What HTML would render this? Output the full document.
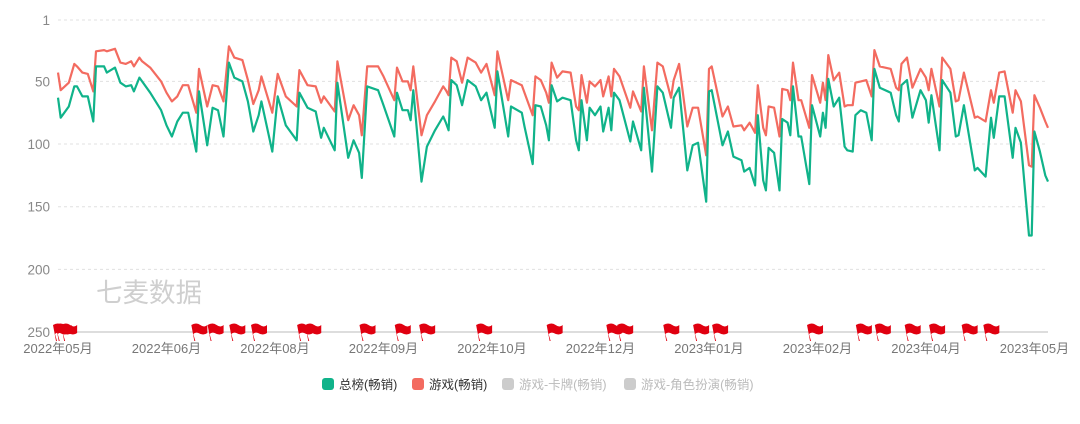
<!DOCTYPE html>
<html><head><meta charset="utf-8">
<style>
html,body{margin:0;padding:0;background:#fff;}
body{width:1080px;height:419px;overflow:hidden;font-family:"Liberation Sans","Noto Sans CJK SC",sans-serif;}
</style></head>
<body>
<svg id="chart" width="1080" height="419" xmlns="http://www.w3.org/2000/svg" font-family="Liberation Sans, Noto Sans CJK SC, sans-serif"></svg>
<script>
const days=[0,1,4,6,7,9,11,13,14,17,18,21,23,25,27,28,30,31,34,38,40,42,44,46,48,51,52,55,57,59,61,63,65,68,70,72,74,75,79,81,84,88,89,92,95,97,98,102,103,107,109,111,112,114,118,120,124,125,127,129,130,131,134,136,139,142,143,144,145,147,149,151,154,156,158,161,162,166,167,171,172,175,176,178,180,181,182,184,186,189,191,192,193,195,196,198,200,201,203,204,205,207,211,212,215,216,219,221,223,226,227,229,232,234,236,239,240,241,245,247,249,252,253,255,257,258,260,261,262,264,266,267,269,270,271,273,274,277,278,281,282,283,284,286,288,290,291,293,294,296,298,300,301,303,307,309,310,311,313,315,318,320,321,322,325,326,329,331,332,334,338,339,342,344,345,347,349,352,353,355,358,359,360,362,364,365];
const totalRank=[63,79,70,54,54,62,62,82,38,38,43,39,51,54,53,58,47,50,59,73,85,94,82,75,75,106,58,101,71,73,94,35,47,50,66,90,77,66,106,62,85,97,59,71,74,95,87,105,51,111,97,107,127,54,57,69,94,59,73,73,81,57,130,102,89,78,83,89,49,53,69,49,54,65,59,87,42,94,70,75,86,116,69,70,85,97,53,66,63,65,97,105,65,97,71,77,70,90,71,89,59,65,98,82,105,55,122,54,59,87,63,55,121,101,99,146,58,57,101,90,110,113,122,119,133,77,129,137,103,107,137,80,83,93,54,94,94,132,69,94,75,87,48,70,63,102,105,106,77,73,75,97,40,55,59,77,82,53,49,79,57,65,83,61,105,49,59,94,93,69,121,119,126,79,95,62,62,111,87,99,173,173,90,106,125,130];
const gameRank=[43,57,51,36,38,43,44,58,26,25,26,24,35,36,34,38,31,34,39,50,59,66,62,53,53,75,40,70,53,54,66,22,31,33,49,68,57,46,75,44,62,70,41,53,54,67,62,74,34,81,69,77,93,38,38,46,65,39,50,50,57,38,93,77,66,54,57,61,31,34,51,31,35,43,36,61,26,65,49,53,59,77,46,49,59,67,35,47,42,43,70,73,45,67,50,54,49,62,46,62,40,46,71,58,74,38,89,35,38,63,49,36,86,71,71,109,40,38,78,70,86,85,89,83,91,53,87,93,70,71,94,56,57,65,35,65,65,87,45,67,51,65,29,49,43,70,69,69,51,50,49,62,25,38,40,55,57,36,31,55,40,47,57,40,70,31,40,66,65,43,79,78,82,57,67,43,42,75,57,66,117,118,61,71,82,87];
const yTicks=[1,50,100,150,200,250];
const xLabelDays=[0,40,80,120,160,200,240,280,320,360];
const xLabels=["2022年05月","2022年06月","2022年08月","2022年09月","2022年10月","2022年12月","2023年01月","2023年02月","2023年04月","2023年05月"];
const flagDays=[0,1,3,51,57,65,73,90,93,113,126,135,156,182,204,208,225,236,243,278,296,303,314,323,335,343];

const svg=document.getElementById('chart');
const NS='http://www.w3.org/2000/svg';
const X0=58,X1=1048,Y0=20,Y1=332;
function xs(d){return X0+(d-0)/(365-0)*(X1-X0);}
function ys(v){return Y0+(v-1)/(250-1)*(Y1-Y0);}
function mk(tag,attrs){const e=document.createElementNS(NS,tag);for(const k in attrs)e.setAttribute(k,attrs[k]);svg.appendChild(e);return e;}

yTicks.forEach(t=>{
  if(t!==250){
    const g=mk('line',{x1:X0,x2:X1,y1:ys(t),y2:ys(t),stroke:'#e0e0e0','stroke-dasharray':'3,3'});
    
    
  }
  const l=mk('text',{x:50,y:ys(t)+5,'text-anchor':'end','font-size':13.5,fill:'#888'});
  l.textContent=t;
  
  
});
const ax=mk('line',{x1:X0,x2:X1,y1:Y1,y2:Y1,stroke:'#bbb'});


xLabelDays.forEach((d,i)=>{
  const l=mk('text',{x:xs(d),y:353,'text-anchor':'middle','font-size':13,fill:'#777'});
  l.textContent=xLabels[i];
  
  
});
const wm=mk('text',{x:96,y:302,'font-size':26.5,fill:'#cfcfcf'});
wm.textContent='七麦数据';



function line(vals,color,name){
  const p=mk('path',{d:vals.map((v,i)=>(i?'L':'M')+xs(days[i]).toFixed(1)+','+ys(v).toFixed(1)).join(''),fill:'none',stroke:color,'stroke-width':2.2,'stroke-linejoin':'round'});
  
  
}
line(gameRank,'#f36b60','game-grossing-line');
line(totalRank,'#10b38a','overall-grossing-line');

flagDays.forEach(d=>{
  const x=xs(d);
  const f=mk('path',{d:`M${x-2},${Y1+9} L${x-5},${Y1-7} Q${x},${Y1-10} ${x+4},${Y1-7} Q${x+8},${Y1-4} ${x+11},${Y1-7} L${x+11},${Y1+1} Q${x+7},${Y1+4} ${x+2},${Y1+1} Q${x-1},${Y1} ${x-3},${Y1+2} L${x-1},${Y1+9} Z`,fill:'#e00010'});
  
  
});

const legend=[["总榜(畅销)","#10b38a",322,"#333"],["游戏(畅销)","#f36b60",412,"#333"],["游戏-卡牌(畅销)","#ccc",502,"#bbb"],["游戏-角色扮演(畅销)","#ccc",624,"#bbb"]];
legend.forEach(it=>{
  const r=mk('rect',{x:it[2],y:378,width:12,height:12,rx:3,fill:it[1]});
  
  
  const t=mk('text',{x:it[2]+17,y:389,'font-size':12.5,fill:it[3]});
  t.textContent=it[0];
  
  
});
</script>
</body></html>
